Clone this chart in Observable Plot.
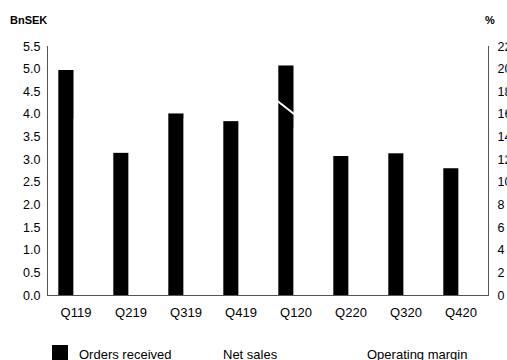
<!DOCTYPE html>
<html>
<head>
<meta charset="utf-8">
<script src="https://cdn.jsdelivr.net/npm/d3@7"></script>
<script src="https://cdn.jsdelivr.net/npm/@observablehq/plot@0.6"></script>
<style>
  html, body { margin: 0; padding: 0; background: #fff; overflow: hidden; }
  #wrap { position: relative; width: 507px; height: 360px; overflow: hidden; font-family: "Liberation Sans", Arial, sans-serif; color: #000; }
  #chart { position: absolute; left: 0; top: 0; }
  .unit { position: absolute; font-size: 11px; font-weight: bold; line-height: 11px; top: 15px; }
  .leg { position: absolute; font-size: 13px; line-height: 13px; top: 348px; white-space: nowrap; }
  .sw { position: absolute; left: 52px; top: 345px; width: 16px; height: 16px; background: #000; }
</style>
</head>
<body>
<div id="wrap">
  <div id="chart"></div>
  <div class="unit" style="left:10px">BnSEK</div>
  <div class="unit" style="left:485px">%</div>
  <div class="sw"></div>
  <div class="leg" style="left:79px">Orders received</div>
  <div class="leg" style="left:223px">Net sales</div>
  <div class="leg" style="left:367px">Operating margin</div>
</div>
<script>
const quarters = ["Q119","Q219","Q319","Q419","Q120","Q220","Q320","Q420"];
const ordersReceived = [4.97, 3.14, 4.01, 3.84, 5.07, 3.07, 3.13, 2.80];
const netSales = [3.9, 3.8, 3.9, 4.3, 3.7, 3.4, 3.3, 3.9];
const operatingMargin = [21.0, 20.5, 20.0, 19.7, 15.9, 14.5, 15.0, 16.0];
const leftTicks = [0, 0.5, 1, 1.5, 2, 2.5, 3, 3.5, 4, 4.5, 5, 5.5];
const rightTicks = [0, 2, 4, 6, 8, 10, 12, 14, 16, 18, 20, 22];
const leftMax = 5.5, rightMax = 22;

const data = quarters.map((q, i) => ({q, orders: ordersReceived[i], sales: netSales[i], margin: operatingMargin[i]}));
const toLeft = v => v * leftMax / rightMax;

const chart = Plot.plot({
  width: 507,
  height: 330,
  marginTop: 46,
  marginBottom: 35,
  marginLeft: 47,
  marginRight: 19,
  style: {fontFamily: "Liberation Sans, Arial, sans-serif", fontSize: "12.5px", color: "#000", background: "#fff"},
  x: {domain: quarters, padding: 0, label: null},
  y: {domain: [0, leftMax], label: null},
  marks: [
    Plot.barY(data, {x: "q", y: "orders", fill: "#000", insetLeft: 10.3, insetRight: 29.5}),
    Plot.barY(data, {x: "q", y: "sales", fill: "#fff", insetLeft: 25.7, insetRight: 14}),
    Plot.line(data, {x: "q", y: d => toLeft(d.margin), stroke: "#fff", strokeWidth: 2}),
    Plot.frame({anchor: "left", stroke: "#555"}),
    Plot.frame({anchor: "right", stroke: "#555"}),
    Plot.ruleY([0], {stroke: "#555"}),
    Plot.axisX({tickSize: 0, tickPadding: 12, fontSize: 13, label: null}),
    Plot.axisY({ticks: leftTicks, tickFormat: d3.format(".1f"), tickSize: 0, tickPadding: 7, label: null}),
    Plot.axisY({anchor: "right", ticks: rightTicks.map(toLeft), tickFormat: v => String(Math.round(v * rightMax / leftMax)), tickSize: 0, tickPadding: 9, label: null})
  ]
});
document.getElementById("chart").appendChild(chart);
</script>
</body>
</html>
